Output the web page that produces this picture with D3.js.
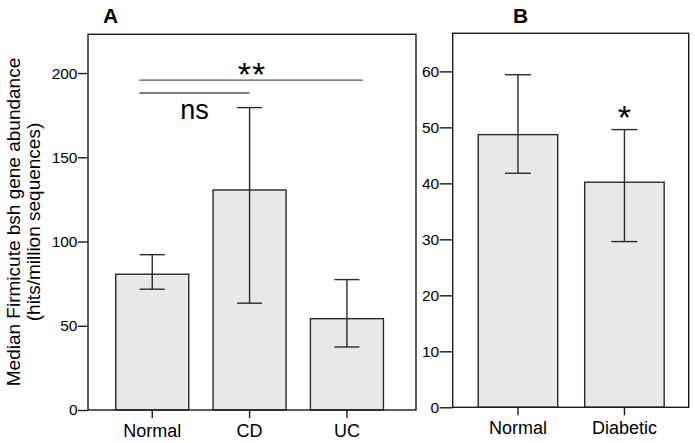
<!DOCTYPE html>
<html>
<head>
<meta charset="utf-8">
<script src="https://cdn.jsdelivr.net/npm/d3@7"></script>
<style>
  body { margin: 0; background: #fff; }
  svg { display: block; }
  text { font-family: "Liberation Sans", Arial, sans-serif; fill: #000; }
</style>
</head>
<body>
<svg id="chart" width="695" height="443"></svg>
<script>
// ---- Data ----
const categoriesA = ["Normal", "CD", "UC"];
const valuesA = [80.6, 130.6, 54.2];
const errLowA = [71.7, 63.4, 37.4];
const errHighA = [92.2, 179.5, 77.4];
const ticksA = [0, 50, 100, 150, 200];

const categoriesB = ["Normal", "Diabetic"];
const valuesB = [48.7, 40.2];
const errLowB = [41.8, 29.6];
const errHighB = [59.4, 49.6];
const ticksB = [0, 10, 20, 30, 40, 50, 60];

const sigA = [
  { from: "Normal", to: "UC", level: 195.8, label: "**" },
  { from: "Normal", to: "CD", level: 188.2, label: "ns" }
];
const sigB = [{ cat: "Diabetic", label: "*" }];

const yLabel = ["Median Firmicute bsh gene abundance", "(hits/million sequences)"];

// ---- Drawing ----
const svg = d3.select("#chart");
svg.append("rect").attr("width", 695).attr("height", 443).attr("fill", "#fff");

const ink = "#1a1a1a";
const barStroke = "#2a2a2a";
const barFill = "#e8e8e8";

function panel(opts) {
  const g = svg.append("g");
  const x = d3.scaleBand().domain(opts.cats)
    .range([opts.left, opts.right]).paddingInner(opts.pi).paddingOuter(opts.po).align(opts.align);
  const y = d3.scaleLinear().domain([0, opts.ymax]).range([opts.bottom, opts.top]);

  // bars
  g.selectAll("rect.bar").data(opts.cats).join("rect")
    .attr("class", "bar")
    .attr("x", d => x(d)).attr("width", x.bandwidth())
    .attr("y", (d, i) => y(opts.values[i]))
    .attr("height", (d, i) => y(0) - y(opts.values[i]))
    .attr("fill", barFill).attr("stroke", barStroke).attr("stroke-width", 1.4);

  // error bars
  const cap = opts.cap;
  opts.cats.forEach((c, i) => {
    const cx = x(c) + x.bandwidth() / 2;
    g.append("line").attr("x1", cx).attr("x2", cx)
      .attr("y1", y(opts.lo[i])).attr("y2", y(opts.hi[i]))
      .attr("stroke", barStroke).attr("stroke-width", 1.4);
    [opts.lo[i], opts.hi[i]].forEach(v => {
      g.append("line").attr("x1", cx - cap / 2).attr("x2", cx + cap / 2)
        .attr("y1", y(v)).attr("y2", y(v))
        .attr("stroke", barStroke).attr("stroke-width", 1.4);
    });
  });

  // frame
  g.append("rect").attr("x", opts.left).attr("y", opts.top)
    .attr("width", opts.right - opts.left).attr("height", opts.bottom - opts.top)
    .attr("fill", "none").attr("stroke", ink).attr("stroke-width", 1.4);

  // y axis
  const ya = g.append("g").attr("transform", `translate(${opts.left},0)`)
    .call(d3.axisLeft(y).tickValues(opts.ticks).tickSize(opts.ytick).tickPadding(0.5).tickFormat(d3.format("d")));
  ya.select(".domain").remove();
  ya.selectAll(".tick line").attr("stroke", ink).attr("stroke-width", 1.4);
  ya.selectAll(".tick text").attr("font-size", 15.5).attr("font-family", "Liberation Sans, Arial, sans-serif").attr("fill", "#000");

  // x axis
  const xa = g.append("g").attr("transform", `translate(0,${opts.bottom})`)
    .call(d3.axisBottom(x).tickSize(8).tickPadding(6));
  xa.select(".domain").remove();
  xa.selectAll(".tick line").attr("stroke", ink).attr("stroke-width", 1.4);
  xa.selectAll(".tick text").attr("font-size", 18).attr("font-family", "Liberation Sans, Arial, sans-serif").attr("fill", "#000");

  // title
  g.append("text").attr("x", opts.titleX).attr("y", 23)
    .attr("font-size", 21).attr("font-weight", "bold").text(opts.title);

  return { g, x, y };
}

const A = panel({
  cats: categoriesA, values: valuesA, lo: errLowA, hi: errHighA, ticks: ticksA,
  left: 88, right: 416, top: 34.3, bottom: 410, ymax: 223, ytick: 10,
  pi: 0.25, po: 0.31, align: 0.46, cap: 25, title: "A", titleX: 103
});

const B = panel({
  cats: categoriesB, values: valuesB, lo: errLowB, hi: errHighB, ticks: ticksB,
  left: 452.7, right: 688.7, top: 33.3, bottom: 407.3, ymax: 66.8, ytick: 13,
  pi: 0.2535, po: 0.235, align: 0.51, cap: 26, title: "B", titleX: 513
});

// significance annotations, panel A
const sigX = c => A.x(c) + A.x.bandwidth() / 2;
sigA.forEach((s, i) => {
  const x1 = sigX(s.from) - 13;
  const x2 = i === 0 ? sigX(s.to) + 16 : sigX(s.to);
  const yy = A.y(s.level);
  A.g.append("line").attr("x1", x1).attr("x2", x2).attr("y1", yy).attr("y2", yy)
    .attr("stroke", "#555").attr("stroke-width", 1.4);
});
// "**" above the long line
A.g.append("text")
  .attr("x", (sigX("Normal") - 13 + sigX("UC") + 16) / 2 + 1)
  .attr("y", A.y(sigA[0].level) + 6)
  .attr("text-anchor", "middle").attr("font-family", "Lato, sans-serif")
  .attr("font-size", 34).attr("letter-spacing", 1).text(sigA[0].label);
// "ns" below the short line
A.g.append("text")
  .attr("x", (sigX("Normal") - 13 + sigX("CD")) / 2)
  .attr("y", A.y(sigA[1].level) + 26)
  .attr("text-anchor", "middle").attr("font-family", "Lato, sans-serif")
  .attr("font-size", 27).text(sigA[1].label);

// "*" above Diabetic error bar
sigB.forEach(s => {
  const i = categoriesB.indexOf(s.cat);
  B.g.append("text")
    .attr("x", B.x(s.cat) + B.x.bandwidth() / 2)
    .attr("y", B.y(errHighB[i]) - 1)
    .attr("text-anchor", "middle").attr("font-size", 34).text(s.label);
});

// y-axis label
const ylab = svg.append("text")
  .attr("transform", `translate(0,222) rotate(-90)`)
  .attr("text-anchor", "middle").attr("font-size", 19);
ylab.append("tspan").attr("x", 0).attr("y", 20).text(yLabel[0]);
ylab.append("tspan").attr("x", 0).attr("y", 40).text(yLabel[1]);
</script>
</body>
</html>
